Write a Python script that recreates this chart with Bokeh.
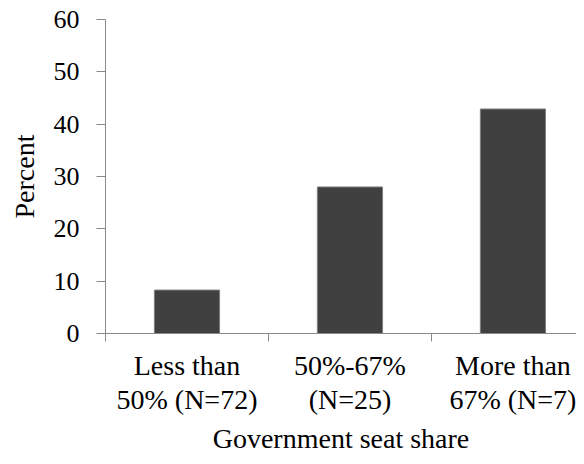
from bokeh.plotting import figure
from bokeh.models import Range1d, FixedTicker
from bokeh.embed import file_html
from bokeh.resources import INLINE

# ---- data ----
categories = ["Less than\n50% (N=72)", "50%-67%\n(N=25)", "More than\n67% (N=7)"]
percent = [8.3, 28.0, 42.9]
y_ticks = [0, 10, 20, 30, 40, 50, 60]
x_title = "Government seat share"
y_title = "Percent"

FONT = "Liberation Serif"
AXIS_COLOR = "#898989"

centers = [i + 0.5 for i in range(len(categories))]
bounds = [float(i) for i in range(len(categories) + 1)]

p = figure(width=576, height=456, output_backend="svg", toolbar_location=None,
           x_range=Range1d(0, 2.89), y_range=Range1d(0, 60),
           min_border_left=105, min_border_right=0, min_border_top=19,
           min_border_bottom=120)
p.outline_line_color = None
p.grid.visible = False
p.background_fill_color = "white"

p.vbar(x=centers, top=percent, width=0.4, fill_color="#404040",
       line_color="#7f7f7f", line_width=1)

# x axis
xa = p.xaxis[0]
xa.ticker = FixedTicker(ticks=centers, minor_ticks=bounds)
xa.major_label_overrides = {c: lab for c, lab in zip(centers, categories)}
xa.major_tick_line_color = None
xa.major_tick_out = 8
xa.major_tick_in = 0
xa.minor_tick_out = 8
xa.minor_tick_in = 0
xa.minor_tick_line_color = AXIS_COLOR
xa.axis_line_color = AXIS_COLOR
xa.major_label_text_font = FONT
xa.major_label_text_font_size = "28px"
xa.major_label_text_color = "black"
xa.major_label_text_line_height = 1.1
xa.major_label_standoff = 8
xa.axis_label = x_title
xa.axis_label_text_font = FONT
xa.axis_label_text_font_size = "28px"
xa.axis_label_text_font_style = "normal"
xa.axis_label_text_color = "black"
xa.axis_label_standoff = 5

# y axis
ya = p.yaxis[0]
ya.ticker = FixedTicker(ticks=y_ticks)
ya.minor_tick_line_color = None
ya.major_tick_out = 9
ya.major_tick_in = 0
ya.major_tick_line_color = AXIS_COLOR
ya.axis_line_color = AXIS_COLOR
ya.major_label_text_font = FONT
ya.major_label_text_font_size = "26px"
ya.major_label_text_color = "black"
ya.major_label_standoff = 17
ya.axis_label = y_title
ya.axis_label_text_font = FONT
ya.axis_label_text_font_size = "28px"
ya.axis_label_text_font_style = "normal"
ya.axis_label_text_color = "black"
ya.axis_label_standoff = 11

open("out.html", "w").write(file_html(p, INLINE))
